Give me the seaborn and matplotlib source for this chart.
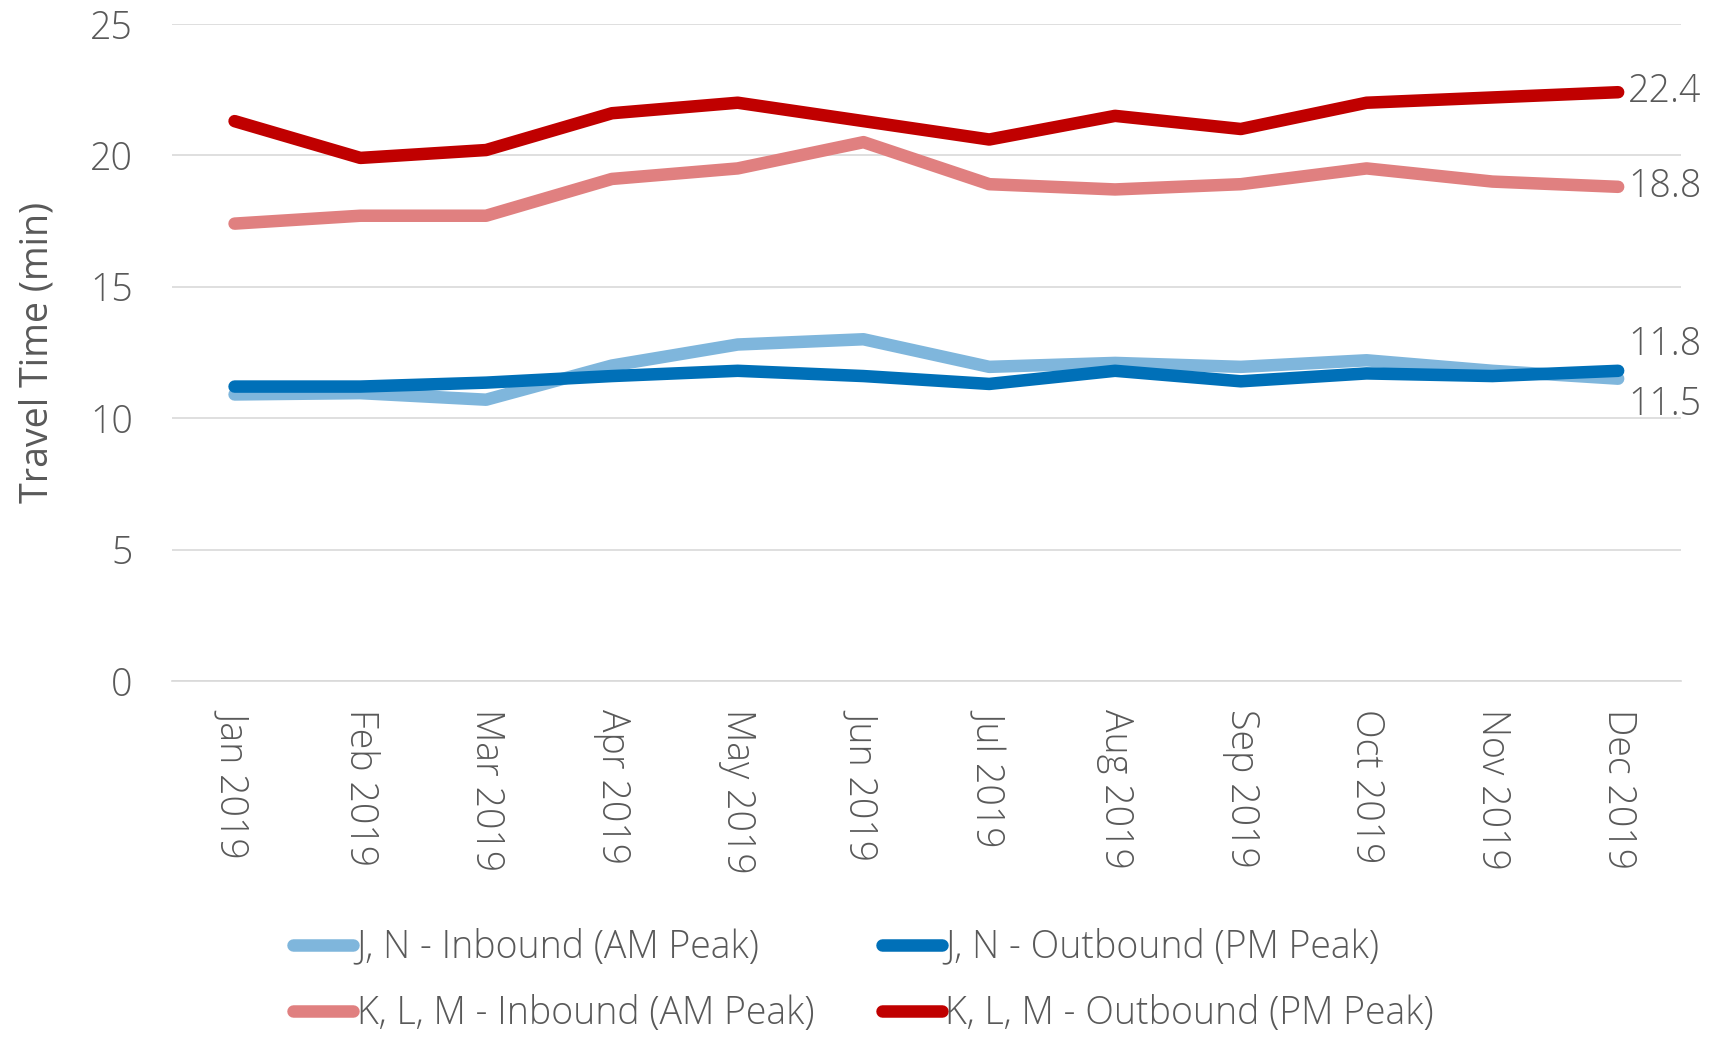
import pandas as pd
import seaborn as sns
import matplotlib.pyplot as plt

months = ["Jan 2019", "Feb 2019", "Mar 2019", "Apr 2019", "May 2019", "Jun 2019",
          "Jul 2019", "Aug 2019", "Sep 2019", "Oct 2019", "Nov 2019", "Dec 2019"]
jn_inbound = [10.9, 10.95, 10.7, 12.0, 12.8, 13.0, 11.95, 12.1, 11.95, 12.2, 11.8, 11.5]
jn_outbound = [11.2, 11.2, 11.35, 11.6, 11.8, 11.6, 11.3, 11.8, 11.4, 11.7, 11.6, 11.8]
klm_inbound = [17.4, 17.7, 17.7, 19.1, 19.5, 20.5, 18.9, 18.7, 18.9, 19.5, 19.0, 18.8]
klm_outbound = [21.3, 19.9, 20.2, 21.6, 22.0, 21.3, 20.6, 21.5, 21.0, 22.0, 22.2, 22.4]

series = {
    "J, N - Inbound (AM Peak)": jn_inbound,
    "J, N - Outbound (PM Peak)": jn_outbound,
    "K, L, M - Inbound (AM Peak)": klm_inbound,
    "K, L, M - Outbound (PM Peak)": klm_outbound,
}
colors = {
    "J, N - Inbound (AM Peak)": "#7FB6DC",
    "J, N - Outbound (PM Peak)": "#0070B8",
    "K, L, M - Inbound (AM Peak)": "#E08080",
    "K, L, M - Outbound (PM Peak)": "#C00000",
}

df = pd.DataFrame([
    {"month": m, "value": v, "route": name}
    for name, vals in series.items()
    for m, v in zip(months, vals)
])

sns.set_style("white")
plt.rcParams['font.family'] = ['Open Sans', 'DejaVu Sans']
plt.rcParams['font.weight'] = 'light'
text_color = "#595959"
fs = 27

fig = plt.figure(figsize=(17.27, 10.38), dpi=100)
ax = fig.add_axes([0.0994, 0.344, 0.874, 0.633])

sns.lineplot(data=df, x="month", y="value", hue="route", hue_order=list(series),
             palette=colors, linewidth=9, sort=False, ax=ax, legend=True,
             solid_capstyle="round")

ax.set_ylim(0, 25)
ax.set_yticks([0, 5, 10, 15, 20, 25])
ax.set_xlim(-0.5, len(months) - 0.5)
ax.grid(axis="y", color="#D9D9D9", linewidth=1.2)
ax.set_axisbelow(True)
for s in ["top", "right", "left"]:
    ax.spines[s].set_visible(False)
ax.spines["bottom"].set_color("#D9D9D9")
ax.spines["bottom"].set_linewidth(1.2)

ax.set_xticks(range(len(months)))
ax.set_xticklabels(months, rotation=-90, fontsize=fs, color=text_color)
ax.set_xticks([i - 0.5 for i in range(len(months) + 1)], minor=True)
ax.tick_params(axis="x", which="major", length=0, pad=20)
ax.tick_params(axis="x", which="minor", length=10, color="#D9D9D9", width=1.2)
ax.tick_params(axis="y", length=0, labelsize=fs, labelcolor=text_color, pad=28)
ax.set_xlabel("")
ax.set_ylabel("Travel Time (min)", fontsize=fs, color=text_color, labelpad=24)

# end labels
last = len(months) - 1
offsets = {
    "J, N - Inbound (AM Peak)": -19,
    "J, N - Outbound (PM Peak)": 19,
    "K, L, M - Inbound (AM Peak)": 0,
    "K, L, M - Outbound (PM Peak)": 0,
}
for name, vals in series.items():
    ax.annotate(f"{vals[-1]:.1f}", xy=(last, vals[-1]), xytext=(7, offsets[name]),
                textcoords="offset points", va="center", ha="left",
                fontsize=fs, color=text_color, annotation_clip=False)

ax.get_legend().remove()
handles, labels = ax.get_legend_handles_labels()
for h in handles:
    h.set_linewidth(9)
    h.set_solid_capstyle("round")
order = [0, 2, 1, 3]
fig.legend([handles[i] for i in order], [labels[i] for i in order],
           loc="lower center", bbox_to_anchor=(0.5, -0.028), ncol=2,
           frameon=False, fontsize=fs, handlelength=1.6, handletextpad=0.1,
           columnspacing=1.8, labelcolor=text_color, labelspacing=0.75)

fig.savefig("out.png", dpi=100)
